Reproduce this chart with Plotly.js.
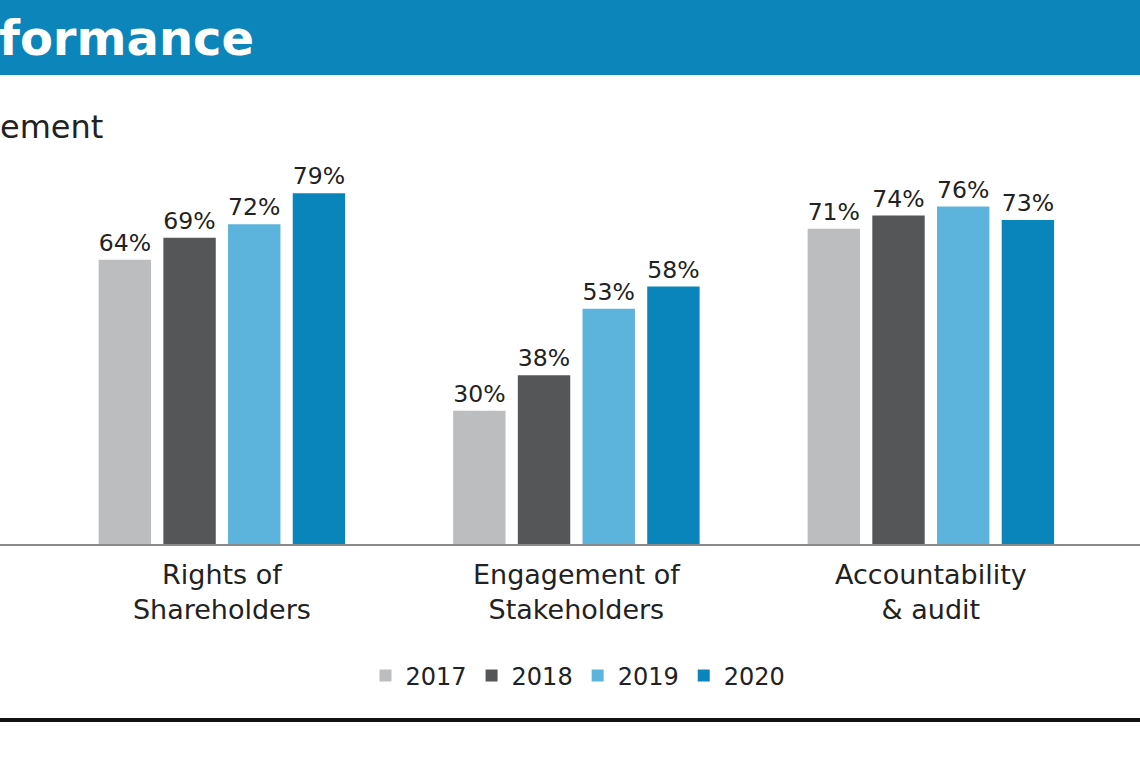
<!DOCTYPE html>
<html>
<head>
<meta charset="utf-8">
<script src="https://cdn.plot.ly/plotly-3.0.1.min.js"></script>
<style>
  html, body { margin: 0; padding: 0; background: #fff; }
  #chart { width: 1140px; height: 760px; }
</style>
</head>
<body>
<div id="chart"></div>
<script>
// categories and yearly scores (percent)
const categories = ['Rights of<br>Shareholders', 'Engagement of<br>Stakeholders', 'Accountability<br>& audit'];
const years = ['2017', '2018', '2019', '2020'];
const scores2017 = [64, 30, 71];
const scores2018 = [69, 38, 74];
const scores2019 = [72, 53, 76];
const scores2020 = [79, 58, 73];
const yearColors = ['#bcbdbf', '#555658', '#5cb3dc', '#0a85bb'];

function main() {
  const allScores = [scores2017, scores2018, scores2019, scores2020];

  // one bar trace per year
  const traces = years.map((yr, i) => ({
    type: 'bar',
    name: yr,
    x: categories,
    y: allScores[i],
    marker: { color: yearColors[i] },
    text: allScores[i].map(v => v + '%'),
    textposition: 'outside',
    cliponaxis: false,
    textfont: { size: 24, color: '#222' },
    hoverinfo: 'skip'
  }));

  // pixel helpers, plot area spans y 100..544
  const py = p => (544 - p) / 444;
  const px = p => p / 1140;

  const layout = {
    width: 1140,
    height: 760,
    margin: { l: 0, r: 0, t: 100, b: 216 },
    paper_bgcolor: '#fff',
    plot_bgcolor: '#fff',
    font: { family: 'DejaVu Sans, sans-serif', color: '#222' },
    barmode: 'group',
    bargap: 0.27,
    bargroupgap: 0.19,
    showlegend: true,
    legend: {
      orientation: 'h',
      x: px(578), xanchor: 'center',
      y: py(676), yanchor: 'middle',
      font: { size: 24, color: '#222' },
      itemwidth: 30,
      traceorder: 'normal'
    },
    xaxis: {
      range: [-0.626, 2.59],
      showline: true,
      linecolor: '#8a8a8a',
      linewidth: 1.5,
      showgrid: false,
      zeroline: false,
      ticks: '',
      ticklabelstandoff: 6,
      tickfont: { size: 27, color: '#222' },
      fixedrange: true
    },
    yaxis: {
      range: [0, 100],
      visible: false,
      fixedrange: true
    },
    shapes: [
      { type: 'rect', xref: 'paper', yref: 'paper', x0: 0, x1: 1, y0: py(75), y1: py(0),
        fillcolor: '#0b85ba', line: { width: 0 }, layer: 'below' },
      { type: 'line', xref: 'paper', yref: 'paper', x0: 0, x1: 1, y0: py(720), y1: py(720),
        line: { color: '#111', width: 4 } }
    ],
    annotations: [
      { xref: 'paper', yref: 'paper', x: px(256), y: py(38), xanchor: 'right', yanchor: 'middle',
        text: '<b>formance</b>', showarrow: false,
        font: { family: 'DejaVu Sans, sans-serif', size: 48, color: '#fff' } },
      { xref: 'paper', yref: 'paper', x: px(-2), y: py(127), xanchor: 'left', yanchor: 'middle',
        text: 'ement', showarrow: false,
        font: { size: 32, color: '#222' } }
    ]
  };

  Plotly.newPlot('chart', traces, layout, { displayModeBar: false, staticPlot: true });
}

main();
</script>
</body>
</html>
